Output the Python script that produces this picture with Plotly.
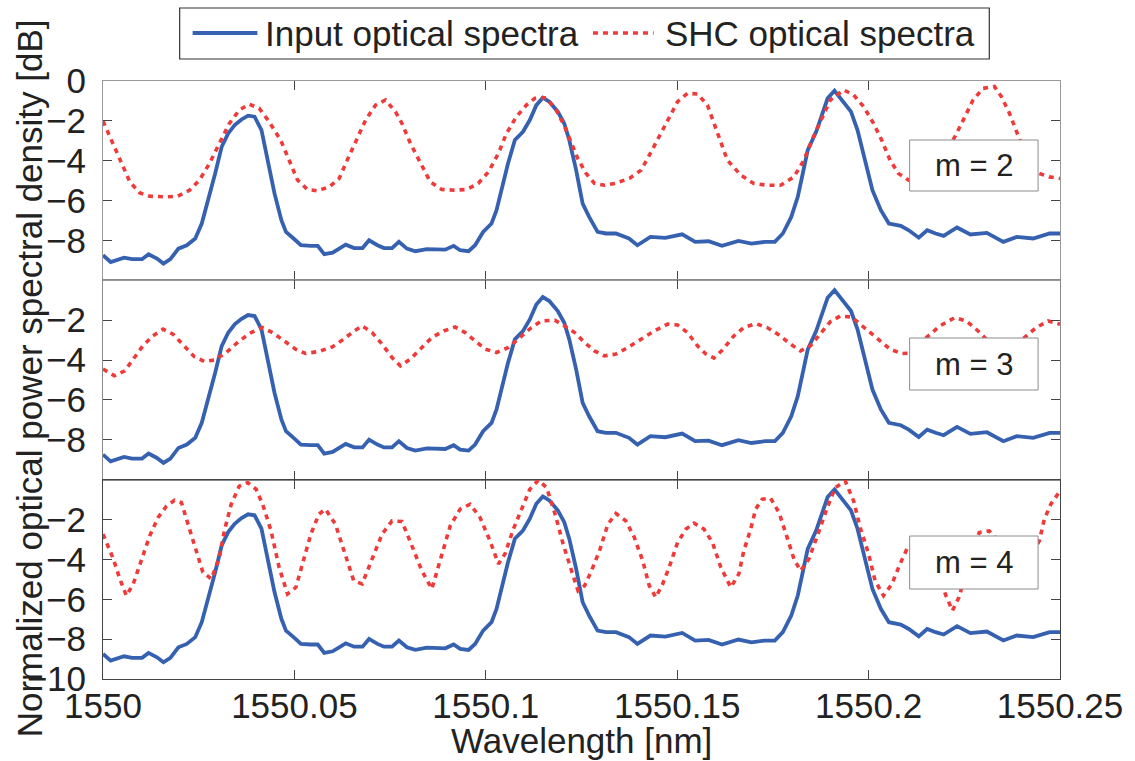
import plotly.graph_objects as go
from plotly.subplots import make_subplots

# Wavelength offsets (nm) relative to the 1550 nm base
BASE_NM = 1550.0

# Input optical spectrum (same comb in all three panels)
wl_input = [0.0000, 0.0020, 0.0055, 0.0076, 0.0102, 0.0119, 0.0141, 0.0158, 0.0176, 0.0197,
            0.0219, 0.0241, 0.0258, 0.0275, 0.0293, 0.0310, 0.0327, 0.0344, 0.0362, 0.0379,
            0.0396, 0.0414, 0.0431, 0.0448, 0.0466, 0.0478, 0.0500, 0.0517, 0.0543, 0.0561,
            0.0578, 0.0600, 0.0634, 0.0656, 0.0678, 0.0695, 0.0717, 0.0734, 0.0755, 0.0773,
            0.0794, 0.0816, 0.0846, 0.0872, 0.0894, 0.0916, 0.0933, 0.0955, 0.0972, 0.0993,
            0.1015, 0.1028, 0.1041, 0.1058, 0.1076, 0.1097, 0.1115, 0.1132, 0.1149, 0.1166,
            0.1188, 0.1205, 0.1218, 0.1236, 0.1253, 0.1270, 0.1292, 0.1314, 0.1340, 0.1374,
            0.1396, 0.1430, 0.1469, 0.1513, 0.1547, 0.1582, 0.1617, 0.1660, 0.1694, 0.1729,
            0.1755, 0.1776, 0.1798, 0.1815, 0.1828, 0.1841, 0.1863, 0.1880, 0.1893, 0.1911,
            0.1932, 0.1954, 0.1971, 0.1989, 0.2010, 0.2032, 0.2053, 0.2084, 0.2105, 0.2131,
            0.2153, 0.2175, 0.2196, 0.2231, 0.2266, 0.2309, 0.2352, 0.2387, 0.2430, 0.2473, 0.2500]
input_db = [-8.74, -9.08, -8.86, -8.94, -8.94, -8.69, -8.91, -9.16, -8.94, -8.41,
            -8.24, -7.90, -7.15, -5.98, -4.64, -3.30, -2.63, -2.21, -1.93, -1.74,
            -1.79, -2.46, -3.97, -5.64, -6.98, -7.57, -7.94, -8.24, -8.27, -8.27,
            -8.69, -8.61, -8.21, -8.38, -8.38, -7.99, -8.24, -8.38, -8.38, -8.07,
            -8.41, -8.54, -8.43, -8.46, -8.46, -8.27, -8.49, -8.54, -8.24, -7.57,
            -7.15, -6.48, -5.48, -4.14, -2.96, -2.55, -1.96, -1.21, -0.84, -1.04,
            -1.54, -2.13, -2.96, -4.47, -6.15, -6.82, -7.57, -7.65, -7.65, -7.90,
            -8.24, -7.82, -7.87, -7.69, -8.07, -8.04, -8.27, -8.02, -8.16, -8.07,
            -8.07, -7.65, -6.82, -5.81, -4.64, -3.47, -2.55, -1.62, -0.87, -0.49,
            -1.04, -1.54, -2.46, -3.80, -5.48, -6.48, -7.15, -7.27, -7.49, -7.86,
            -7.49, -7.65, -7.77, -7.35, -7.70, -7.62, -8.07, -7.82, -7.90, -7.65, -7.65]

# SHC output, m = 2
wl_m2 = [0.0000, 0.0027, 0.0049, 0.0070, 0.0096, 0.0122, 0.0165, 0.0195, 0.0226, 0.0252,
         0.0278, 0.0304, 0.0330, 0.0356, 0.0382, 0.0408, 0.0434, 0.0465, 0.0486, 0.0508,
         0.0534, 0.0560, 0.0591, 0.0617, 0.0638, 0.0664, 0.0686, 0.0712, 0.0738, 0.0764,
         0.0781, 0.0803, 0.0829, 0.0855, 0.0885, 0.0919, 0.0950, 0.0980, 0.1007, 0.1033,
         0.1054, 0.1080, 0.1106, 0.1128, 0.1158, 0.1184, 0.1206, 0.1223, 0.1240, 0.1262,
         0.1284, 0.1310, 0.1336, 0.1375, 0.1406, 0.1432, 0.1453, 0.1475, 0.1501, 0.1527,
         0.1553, 0.1579, 0.1596, 0.1614, 0.1631, 0.1666, 0.1700, 0.1735, 0.1770, 0.1805,
         0.1831, 0.1852, 0.1874, 0.1900, 0.1935, 0.1961, 0.1987, 0.2013, 0.2034, 0.2056,
         0.2078, 0.2104, 0.2140, 0.2185, 0.2230, 0.2247, 0.2273, 0.2299, 0.2329, 0.2347,
         0.2368, 0.2385, 0.2410, 0.2446, 0.2472, 0.2500]
shc_m2 = [-2.01, -3.13, -4.14, -5.06, -5.61, -5.78, -5.81, -5.78, -5.48, -4.97,
          -4.14, -3.13, -2.13, -1.46, -1.16, -1.37, -2.04, -3.00, -4.00, -4.97,
          -5.44, -5.51, -5.31, -4.89, -3.97, -2.88, -1.96, -1.21, -0.95, -1.54,
          -2.13, -3.13, -4.14, -5.06, -5.44, -5.48, -5.44, -5.14, -4.56, -3.63,
          -2.63, -1.79, -1.21, -0.87, -0.84, -1.46, -2.29, -3.13, -3.88, -4.64,
          -5.14, -5.23, -5.14, -4.89, -4.47, -3.55, -2.80, -1.96, -1.04, -0.62,
          -0.65, -1.21, -2.13, -3.05, -3.97, -4.72, -5.14, -5.23, -5.23, -4.81,
          -3.97, -2.96, -2.04, -0.95, -0.45, -0.70, -1.29, -2.13, -2.96, -3.97,
          -4.64, -4.97, -5.10, -4.20, -2.63, -1.96, -0.95, -0.37, -0.28, -0.79,
          -1.62, -2.46, -3.70, -4.64, -4.81, -4.89]

# SHC output, m = 3
wl_m3 = [0.0000, 0.0030, 0.0057, 0.0079, 0.0104, 0.0130, 0.0157, 0.0183, 0.0213, 0.0239,
         0.0265, 0.0291, 0.0322, 0.0356, 0.0387, 0.0417, 0.0443, 0.0473, 0.0503, 0.0529,
         0.0564, 0.0599, 0.0629, 0.0656, 0.0677, 0.0703, 0.0729, 0.0755, 0.0777, 0.0803,
         0.0829, 0.0859, 0.0890, 0.0920, 0.0946, 0.0972, 0.0998, 0.1028, 0.1059, 0.1089,
         0.1119, 0.1145, 0.1180, 0.1206, 0.1232, 0.1258, 0.1284, 0.1310, 0.1340, 0.1371,
         0.1405, 0.1440, 0.1475, 0.1501, 0.1527, 0.1553, 0.1575, 0.1596, 0.1618, 0.1648,
         0.1674, 0.1705, 0.1735, 0.1766, 0.1796, 0.1822, 0.1848, 0.1874, 0.1900, 0.1926,
         0.1956, 0.1978, 0.2004, 0.2030, 0.2056, 0.2086, 0.2115, 0.2151, 0.2186, 0.2225,
         0.2255, 0.2286, 0.2320, 0.2355, 0.2385, 0.2407, 0.2438, 0.2469, 0.2500]
shc_m3 = [-4.45, -4.79, -4.54, -3.95, -3.29, -2.79, -2.45, -2.70, -3.29, -3.84,
          -4.07, -4.00, -3.62, -3.04, -2.62, -2.37, -2.62, -3.04, -3.45, -3.67,
          -3.57, -3.34, -2.95, -2.54, -2.29, -2.62, -3.20, -3.87, -4.29, -3.95,
          -3.45, -2.87, -2.54, -2.34, -2.62, -3.04, -3.45, -3.62, -3.37, -2.87,
          -2.37, -2.04, -2.00, -2.29, -2.62, -3.12, -3.54, -3.79, -3.70, -3.37,
          -2.95, -2.54, -2.20, -2.24, -2.62, -3.29, -3.70, -3.90, -3.50, -2.79,
          -2.37, -2.17, -2.37, -2.74, -3.20, -3.54, -3.29, -2.70, -2.07, -1.79,
          -1.84, -2.20, -2.62, -3.04, -3.45, -3.67, -3.65, -2.87, -2.29, -1.87,
          -2.04, -2.54, -3.20, -3.55, -3.30, -2.87, -2.37, -2.04, -2.20]

# SHC output, m = 4
wl_m4 = [0.0000, 0.0014, 0.0027, 0.0044, 0.0061, 0.0079, 0.0101, 0.0122, 0.0144, 0.0166,
         0.0187, 0.0205, 0.0222, 0.0244, 0.0261, 0.0283, 0.0304, 0.0317, 0.0335, 0.0356,
         0.0378, 0.0400, 0.0417, 0.0439, 0.0460, 0.0482, 0.0504, 0.0521, 0.0543, 0.0564,
         0.0581, 0.0607, 0.0633, 0.0655, 0.0677, 0.0703, 0.0729, 0.0755, 0.0781, 0.0807,
         0.0833, 0.0859, 0.0885, 0.0907, 0.0933, 0.0959, 0.0985, 0.1011, 0.1033, 0.1050,
         0.1072, 0.1094, 0.1115, 0.1137, 0.1159, 0.1181, 0.1202, 0.1224, 0.1241, 0.1258,
         0.1276, 0.1297, 0.1319, 0.1340, 0.1366, 0.1388, 0.1410, 0.1427, 0.1444, 0.1462,
         0.1479, 0.1501, 0.1523, 0.1544, 0.1570, 0.1592, 0.1614, 0.1640, 0.1661, 0.1674,
         0.1692, 0.1705, 0.1722, 0.1744, 0.1766, 0.1783, 0.1805, 0.1822, 0.1844, 0.1866,
         0.1892, 0.1913, 0.1939, 0.1961, 0.1978, 0.2000, 0.2017, 0.2039, 0.2061, 0.2082,
         0.2100, 0.2130, 0.2165, 0.2202, 0.2219, 0.2236, 0.2260, 0.2289, 0.2315, 0.2340,
         0.2390, 0.2446, 0.2459, 0.2476, 0.2500]
shc_m4 = [-2.73, -3.40, -3.98, -4.98, -5.82, -5.23, -3.98, -2.82, -1.90, -1.32,
          -1.03, -1.15, -2.23, -3.57, -4.65, -4.98, -3.90, -2.57, -1.23, -0.32,
          -0.15, -0.48, -1.23, -2.57, -4.40, -5.73, -5.40, -4.23, -2.73, -1.73,
          -1.48, -2.23, -3.82, -5.07, -5.23, -3.98, -2.73, -2.07, -2.10, -3.32,
          -4.57, -5.48, -3.73, -2.32, -1.48, -1.23, -1.90, -3.07, -4.23, -3.73,
          -2.48, -1.40, -0.48, -0.03, -0.40, -1.73, -3.23, -4.57, -5.57, -5.32,
          -4.57, -3.57, -2.23, -1.70, -2.07, -2.90, -4.07, -5.32, -5.90, -5.23,
          -4.40, -3.15, -2.48, -2.18, -2.48, -3.15, -4.40, -5.40, -4.73, -3.57,
          -2.48, -1.48, -0.98, -0.93, -1.65, -2.65, -3.98, -4.57, -3.98, -2.82,
          -1.40, -0.40, -0.07, -1.07, -2.40, -3.73, -5.07, -5.82, -5.23, -4.23,
          -3.48, -3.00, -3.80, -5.82, -6.57, -5.90, -4.30, -2.65, -2.57, -3.10,
          -5.00, -3.07, -1.98, -1.23, -0.57]

x_tick_vals = [1550.0, 1550.05, 1550.1, 1550.15, 1550.2, 1550.25]
x_tick_text = ["1550", "1550.05", "1550.1", "1550.15", "1550.2", "1550.25"]
y_ticks_per_panel = [[0, -2, -4, -6, -8], [-2, -4, -6, -8], [-2, -4, -6, -8, -10]]
panel_labels = ["m = 2", "m = 3", "m = 4"]
legend_names = ["Input optical spectra", "SHC optical spectra"]

BLUE = "#3561b0"
RED = "#f03a3a"
FONT = "Liberation Sans, Arial, Helvetica, sans-serif"
TXT = "#222222"
FS = 35

W, H = 1135, 761
ML, MR, MT, MB = 103, 71, 81, 82
PW, PH = W - ML - MR, H - MT - MB


def px_to_paper(px, py):
    return (px - ML) / PW, (H - MB - py) / PH


fig = make_subplots(rows=3, cols=1, shared_xaxes=True, vertical_spacing=0)

shc_series = [(wl_m2, shc_m2), (wl_m3, shc_m3), (wl_m4, shc_m4)]
for row, (wl_s, db_s) in enumerate(shc_series, start=1):
    fig.add_trace(go.Scatter(
        x=[BASE_NM + w for w in wl_input], y=input_db, mode="lines",
        name=legend_names[0], showlegend=False,
        line=dict(color=BLUE, width=3.8)), row=row, col=1)
    fig.add_trace(go.Scatter(
        x=[BASE_NM + w for w in wl_s], y=db_s, mode="lines",
        name=legend_names[1], showlegend=False,
        line=dict(color=RED, width=3.6, dash="5px,5px")), row=row, col=1)

frame_colors = ["#9a9a9a", "#8a8a8a", "#444444"]
for row in range(1, 4):
    fig.update_xaxes(
        range=[1550.0, 1550.25], tickvals=x_tick_vals, ticktext=x_tick_text,
        showticklabels=(row == 3), ticks="inside", ticklen=9, tickwidth=1,
        tickcolor="#444444", mirror="ticks", showline=True, linewidth=1,
        linecolor=frame_colors[row - 1], showgrid=False, zeroline=False,
        ticklabelstandoff=-4,
        tickfont=dict(family=FONT, size=FS, color=TXT), row=row, col=1)
    fig.update_yaxes(
        range=[-10, 0], tickvals=y_ticks_per_panel[row - 1],
        ticks="inside", ticklen=9, tickwidth=1, tickcolor="#444444",
        mirror="ticks", showline=True, linewidth=1,
        linecolor=frame_colors[row - 1], showgrid=False, zeroline=False,
        ticklabelstandoff=9,
        tickfont=dict(family=FONT, size=FS, color=TXT), row=row, col=1)

shapes = []
annotations = []

# Panel tags (m = 2, 3, 4)
tag_boxes = [(140, 191), (338, 390), (536, 589)]
for label, (ytop, ybot) in zip(panel_labels, tag_boxes):
    x0, y0 = px_to_paper(913, ybot)
    x1, y1 = px_to_paper(1042, ytop)
    shapes.append(dict(type="rect", xref="paper", yref="paper", x0=x0, x1=x1, y0=y0, y1=y1,
                       fillcolor="white", line=dict(color="#8c8c8c", width=1), layer="above"))
    annotations.append(dict(text=label, xref="paper", yref="paper", x=(x0 + x1) / 2,
                            y=(y0 + y1) / 2, xanchor="center", yanchor="middle",
                            showarrow=False, font=dict(family=FONT, size=31, color=TXT)))

# Legend box across the top
lx0, ly0 = px_to_paper(180, 59)
lx1, ly1 = px_to_paper(993, 8)
shapes.append(dict(type="rect", xref="paper", yref="paper", x0=lx0, x1=lx1, y0=ly0, y1=ly1,
                   fillcolor="white", line=dict(color="#333333", width=1.2)))
_, ly = px_to_paper(0, 33)
a0, _ = px_to_paper(193, 0)
a1, _ = px_to_paper(258, 0)
shapes.append(dict(type="line", xref="paper", yref="paper", x0=a0, x1=a1, y0=ly, y1=ly,
                   line=dict(color=BLUE, width=3.8)))
b0, _ = px_to_paper(595, 0)
b1, _ = px_to_paper(656, 0)
shapes.append(dict(type="line", xref="paper", yref="paper", x0=b0, x1=b1, y0=ly, y1=ly,
                   line=dict(color=RED, width=3.6, dash="5px,5px")))
t0, _ = px_to_paper(264, 0)
t1, _ = px_to_paper(665, 0)
for name, tx in zip(legend_names, [t0, t1]):
    annotations.append(dict(text=name, xref="paper", yref="paper", x=tx, y=ly,
                            xanchor="left", yanchor="middle", showarrow=False,
                            font=dict(family=FONT, size=FS, color=TXT)))

# Axis titles
xt, yt = px_to_paper(29, 378)
annotations.append(dict(text="Normalized optical power spectral density [dB]",
                        xref="paper", yref="paper", x=xt, y=yt, textangle=-90,
                        xanchor="center", yanchor="middle", showarrow=False,
                        font=dict(family=FONT, size=FS, color=TXT)))
_, yx = px_to_paper(0, 740)
annotations.append(dict(text="Wavelength [nm]", xref="paper", yref="paper", x=0.5, y=yx,
                        xanchor="center", yanchor="middle", showarrow=False,
                        font=dict(family=FONT, size=FS, color=TXT)))

fig.update_layout(
    width=W, height=H, margin=dict(l=ML, r=MR, t=MT, b=MB),
    paper_bgcolor="white", plot_bgcolor="white", showlegend=False,
    shapes=shapes, annotations=annotations,
    font=dict(family=FONT, size=FS, color=TXT),
)

fig.write_html("out.html")
